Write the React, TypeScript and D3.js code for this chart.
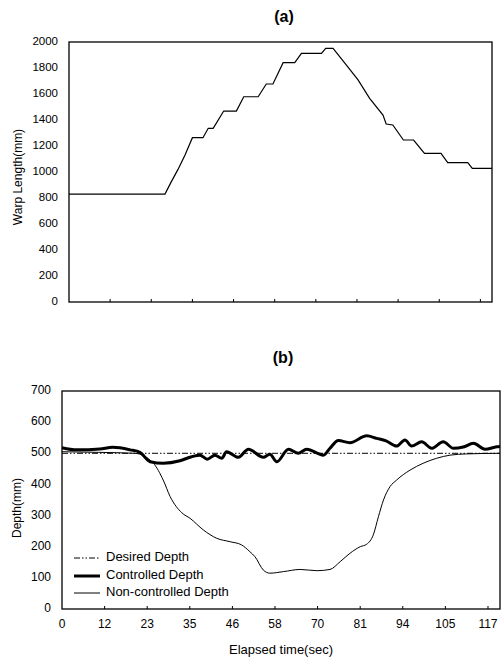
import * as d3 from "d3";

// time axis (seconds) shared by both panels
const T_MAX = 120.3;
const tickLabels = ["0", "12", "23", "35", "46", "58", "70", "81", "94", "105", "117"];
const TICK_STEP = 11.7;

// (a) warp length
const warpTime = [0, 27.3, 29, 31, 33, 35.1, 38.1, 39.6, 41, 44, 47.6, 49.7, 53.8, 56.1, 58, 60.9, 64.2, 66.1, 71.8, 73, 75.1, 78.9, 82.2, 85.5, 89.3, 90.2, 92.1, 95.1, 98, 101.1, 105.8, 107.7, 113.4, 114.7, 120.3];
const warpLength = [830, 830, 920, 1020, 1130, 1264, 1264, 1336, 1336, 1469, 1469, 1579, 1579, 1677, 1677, 1841, 1841, 1913, 1913, 1951, 1951, 1823, 1708, 1567, 1438, 1369, 1362, 1246, 1246, 1144, 1144, 1072, 1072, 1028, 1028];
const warpTicks = [0, 200, 400, 600, 800, 1000, 1200, 1400, 1600, 1800, 2000];

// (b) depth
const ctrlTime = [0, 4, 10.4, 14, 18.7, 21.4, 24.2, 27.8, 32.4, 35.6, 37.9, 39.9, 42, 43.9, 45.2, 48.4, 51.2, 55.3, 57.1, 59, 62.2, 64.9, 67.2, 71.8, 73.6, 75.9, 79.1, 83.7, 86.4, 89, 91.9, 94.2, 96, 98.8, 101.5, 104.7, 107.5, 110.2, 113, 116.2, 119.4, 120.3];
const ctrlDepth = [518, 511, 514, 519, 511, 503, 473, 468, 476, 489, 494, 481, 494, 484, 505, 487, 513, 487, 497, 473, 513, 500, 513, 494, 516, 541, 534, 556, 548, 540, 523, 543, 523, 537, 516, 537, 516, 520, 532, 513, 521, 522];

const freeTime = [0, 10, 20, 25.1, 27.8, 29.7, 32.9, 35.2, 38.8, 42.5, 46.2, 49.3, 51.6, 53, 55.3, 57.1, 60.8, 65.4, 70, 73.6, 76.4, 79.1, 81.9, 83.7, 85.5, 86.9, 88.3, 90.1, 91.9, 95.6, 99.2, 102.9, 106.6, 111.1, 120.3];
const freeDepth = [505, 503, 500, 468, 414, 361, 309, 291, 254, 227, 216, 206, 184, 168, 125, 115, 120, 127, 123, 127, 152, 179, 200, 208, 238, 296, 350, 393, 414, 446, 468, 484, 494, 498, 500];

const DESIRED = 500;
const depthTicks = [0, 100, 200, 300, 400, 500, 600, 700];

const FONT = "'Liberation Sans', Arial, sans-serif";

type Pt = [number, number];
const zip = (a: number[], b: number[]): Pt[] => a.map((t, i) => [t, b[i]]);

export default function App() {
  const xa = d3.scaleLinear().domain([0, T_MAX]).range([69, 492]);
  const ya = d3.scaleLinear().domain([0, 2000]).range([302, 42]);
  const xb = d3.scaleLinear().domain([0, T_MAX]).range([62, 500]);
  const yb = d3.scaleLinear().domain([0, 700]).range([609, 391]);

  const warpLine = d3.line<Pt>().x((d) => xa(d[0])).y((d) => ya(d[1]));
  const ctrlLine = d3
    .line<Pt>()
    .x((d) => xb(d[0]))
    .y((d) => yb(d[1]))
    .curve(d3.curveMonotoneX);
  const freeLine = d3
    .line<Pt>()
    .x((d) => xb(d[0]))
    .y((d) => yb(d[1]))
    .curve(d3.curveMonotoneX);

  const tickIdx = d3.range(tickLabels.length);

  const legend = [
    { label: "Desired Depth", width: 1, dash: "6,2,1.5,2,1.5,2" },
    { label: "Controlled Depth", width: 3, dash: undefined },
    { label: "Non-controlled Depth", width: 1, dash: undefined },
  ];
  const legendY = [558, 576, 593];

  return (
    <div style={{ position: "absolute", left: 0, top: 0 }}>
      <svg width={501} height={659} style={{ display: "block", background: "#fff" }} fontFamily={FONT}>
        {/* (a) */}
        <text x={284} y={22} textAnchor="middle" fontSize={16} fontWeight="bold">(a)</text>
        <rect x={69} y={42} width={423} height={260} fill="none" stroke="#000" strokeWidth={1.3} />
        {tickIdx.slice(1).map((i) => (
          <line key={i} x1={xa(i * TICK_STEP)} x2={xa(i * TICK_STEP)} y1={302} y2={299} stroke="#000" />
        ))}
        {warpTicks.map((v) => (
          <text key={v} x={58} y={ya(v)} textAnchor="end" dominantBaseline="middle" fontSize={11.5}>
            {v}
          </text>
        ))}
        <text
          transform={`translate(19,${ya(1000) + 5}) rotate(-90)`}
          textAnchor="middle"
          dominantBaseline="middle"
          fontSize={12}
        >
          Warp Length(mm)
        </text>
        <path d={warpLine(zip(warpTime, warpLength)) ?? ""} fill="none" stroke="#000" strokeWidth={1.2} />

        {/* (b) */}
        <text x={283} y={363} textAnchor="middle" fontSize={16} fontWeight="bold">(b)</text>
        <rect x={62} y={391} width={438} height={218} fill="none" stroke="#000" strokeWidth={1.3} />
        {tickIdx.map((i) => (
          <g key={i}>
            {i > 0 && (
              <line x1={xb(i * TICK_STEP)} x2={xb(i * TICK_STEP)} y1={609} y2={606} stroke="#000" />
            )}
            <text x={xb(i * TICK_STEP)} y={625} textAnchor="middle" dominantBaseline="middle" fontSize={12}>
              {tickLabels[i]}
            </text>
          </g>
        ))}
        {depthTicks.map((v) => (
          <text key={v} x={51} y={yb(v)} textAnchor="end" dominantBaseline="middle" fontSize={12}>
            {v}
          </text>
        ))}
        <text
          transform={`translate(18,508) rotate(-90)`}
          textAnchor="middle"
          dominantBaseline="middle"
          fontSize={12}
        >
          Depth(mm)
        </text>
        <text x={281} y={651} textAnchor="middle" dominantBaseline="middle" fontSize={13}>
          Elapsed time(sec)
        </text>

        <line
          x1={xb(0)}
          x2={xb(T_MAX)}
          y1={yb(DESIRED)}
          y2={yb(DESIRED)}
          stroke="#000"
          strokeWidth={1}
          strokeDasharray="6,2,1.5,2,1.5,2"
        />
        <path d={freeLine(zip(freeTime, freeDepth)) ?? ""} fill="none" stroke="#000" strokeWidth={1} />
        <path d={ctrlLine(zip(ctrlTime, ctrlDepth)) ?? ""} fill="none" stroke="#000" strokeWidth={3} strokeLinejoin="round" />

        {legend.map((l, i) => (
          <g key={l.label}>
            <line x1={74} x2={100} y1={legendY[i]} y2={legendY[i]} stroke="#000" strokeWidth={l.width} strokeDasharray={l.dash} />
            <text x={106} y={legendY[i]} dominantBaseline="middle" fontSize={13}>
              {l.label}
            </text>
          </g>
        ))}
      </svg>
    </div>
  );
}
